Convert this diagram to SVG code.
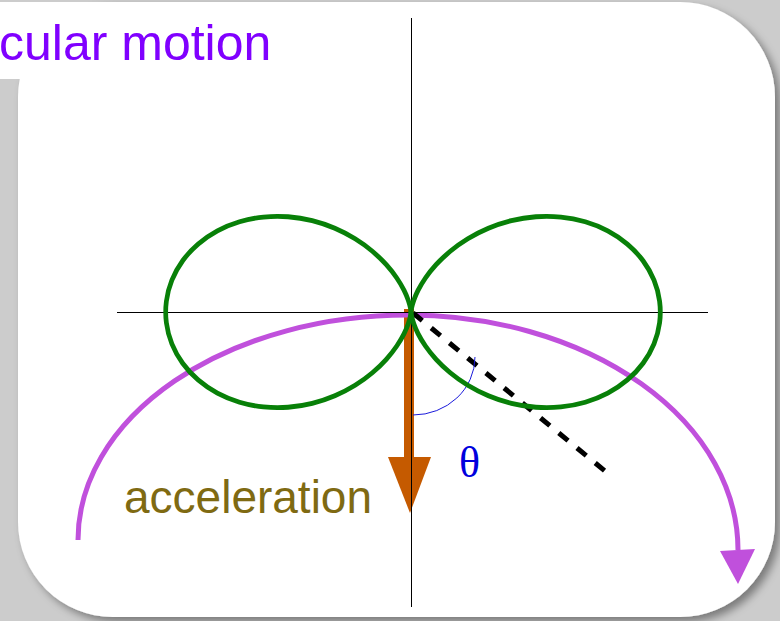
<svg xmlns="http://www.w3.org/2000/svg" width="780" height="621" viewBox="0 0 780 621">
<defs>
<filter id="sh" x="-10%" y="-10%" width="120%" height="120%">
<feDropShadow dx="5" dy="5" stdDeviation="4" flood-color="#000" flood-opacity="0.4"/>
</filter>
<style>
.axis{stroke:#000;stroke-width:1;fill:none}
.lobe{stroke:#088008;stroke-width:4.8;fill:none;stroke-linejoin:round}
</style>
</defs>
<rect x="0" y="0" width="780" height="621" fill="#cccccc"/>
<rect x="18" y="2" width="757" height="615" rx="95" ry="95" fill="#ffffff" filter="url(#sh)"/>
<rect x="0" y="2" width="300" height="77" fill="#ffffff"/>
<g id="title">
<text x="-1" y="60" font-family="Liberation Sans, Arial, sans-serif" font-size="50" fill="#8000ff">cular motion</text>
</g>
<g id="acceleration-arrow">
<rect x="404" y="309" width="10" height="152" fill="#c55a00"/>
<polygon points="388,457 431,457 410,513" fill="#c55a00"/>
</g>
<g id="connectors">
<path id="trajectory" d="M78,540 A330,225 0 0 1 408,315 A330,235 0 0 1 738,550" fill="none" stroke="#c050dc" stroke-width="5"/>
<polygon points="720,551 755,549 738,584" fill="#c050dc"/>
<line class="axis" x1="411.5" y1="18" x2="411.5" y2="607"/>
<line class="axis" x1="117" y1="312.5" x2="708" y2="312.5"/>
<line x1="413" y1="313" x2="605" y2="471" stroke="#000" stroke-width="5" stroke-dasharray="12 11.6"/>
<path d="M413,415 A62,58 0 0 0 475,357" fill="none" stroke="#1a1adb" stroke-width="1"/>
</g>
<g id="right-lobe">
<path class="lobe" d="M411,312 Q411.2,310.1 411.75,307.35 Q412.3,304.6 413.8,300.2 Q415.3,295.8 418.15,290.15 Q421,284.5 425.45,278 Q429.9,271.5 436.1,264.7 Q442.3,257.9 450.25,251.25 Q458.2,244.6 467.8,238.75 Q477.4,232.9 488.4,228.25 Q499.4,223.6 511.4,220.65 Q523.4,217.7 535.9,216.75 Q548.4,215.8 560.9,217.05 Q573.4,218.3 585.25,221.75 Q597.1,225.2 607.75,230.85 Q618.4,236.5 627.35,244.05 Q636.3,251.6 643.05,260.75 Q649.8,269.9 654,280.15 Q658.2,290.4 659.6,301.2 Q661,312 659.6,322.8 Q658.2,333.6 654,343.85 Q649.8,354.1 643.05,363.25 Q636.3,372.4 627.35,379.95 Q618.4,387.5 607.75,393.15 Q597.1,398.8 585.25,402.25 Q573.4,405.7 560.9,406.95 Q548.4,408.2 535.9,407.25 Q523.4,406.3 511.4,403.35 Q499.4,400.4 488.4,395.75 Q477.4,391.1 467.8,385.25 Q458.2,379.4 450.25,372.75 Q442.3,366.1 436.1,359.3 Q429.9,352.5 425.45,346 Q421,339.5 418.15,333.85 Q415.3,328.2 413.8,323.8 Q412.3,319.4 411.75,316.65 Q411.2,313.9 411,312 Z"/>
</g>
<g id="left-lobe" transform="translate(411 0) scale(0.984 1) translate(-411 0)">
<path class="lobe" d="M411,312 Q410.8,310.1 410.25,307.35 Q409.7,304.6 408.2,300.2 Q406.7,295.8 403.85,290.15 Q401,284.5 396.55,278 Q392.1,271.5 385.9,264.7 Q379.7,257.9 371.75,251.25 Q363.8,244.6 354.2,238.75 Q344.6,232.9 333.6,228.25 Q322.6,223.6 310.6,220.65 Q298.6,217.7 286.1,216.75 Q273.6,215.8 261.1,217.05 Q248.6,218.3 236.75,221.75 Q224.9,225.2 214.25,230.85 Q203.6,236.5 194.65,244.05 Q185.7,251.6 178.95,260.75 Q172.2,269.9 168,280.15 Q163.8,290.4 162.4,301.2 Q161,312 162.4,322.8 Q163.8,333.6 168,343.85 Q172.2,354.1 178.95,363.25 Q185.7,372.4 194.65,379.95 Q203.6,387.5 214.25,393.15 Q224.9,398.8 236.75,402.25 Q248.6,405.7 261.1,406.95 Q273.6,408.2 286.1,407.25 Q298.6,406.3 310.6,403.35 Q322.6,400.4 333.6,395.75 Q344.6,391.1 354.2,385.25 Q363.8,379.4 371.75,372.75 Q379.7,366.1 385.9,359.3 Q392.1,352.5 396.55,346 Q401,339.5 403.85,333.85 Q406.7,328.2 408.2,323.8 Q409.7,319.4 410.25,316.65 Q410.8,313.9 411,312 Z"/>
</g>
<g id="labels">
<text x="124" y="513" font-family="Liberation Sans, Arial, sans-serif" font-size="46" fill="#7f6a12">acceleration</text>
<text x="459" y="477" font-family="Liberation Serif, Times New Roman, serif" font-size="44" fill="#0000dd">θ</text>
</g>
</svg>
